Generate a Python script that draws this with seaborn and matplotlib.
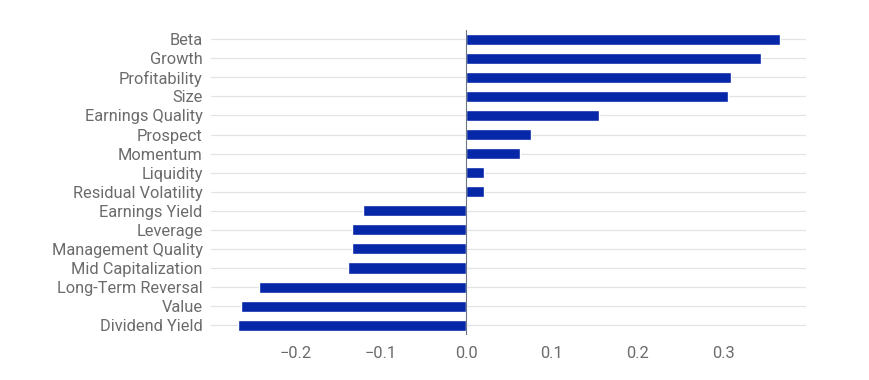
import matplotlib
matplotlib.use('Agg')

import matplotlib.pyplot as plt
import seaborn as sns
import pandas as pd

factors = ['Beta', 'Growth', 'Profitability', 'Size', 'Earnings Quality',
           'Prospect', 'Momentum', 'Liquidity', 'Residual Volatility',
           'Earnings Yield', 'Leverage', 'Management Quality',
           'Mid Capitalization', 'Long-Term Reversal', 'Value', 'Dividend Yield']
exposure = [0.366, 0.344, 0.309, 0.306, 0.155, 0.075, 0.063, 0.021, 0.021,
            -0.121, -0.134, -0.134, -0.138, -0.242, -0.263, -0.267]
x_ticks = [-0.2, -0.1, 0.0, 0.1, 0.2, 0.3]

sns.set_theme(style='white')
plt.rcParams['font.family'] = ['Roboto', 'DejaVu Sans']

df = pd.DataFrame({'factor': factors, 'exposure': exposure})

fig = plt.figure(figsize=(8.7, 3.8), dpi=100)
ax = fig.add_axes([0.2425, 0.119, 0.684, 0.803])

# horizontal gridlines at each category
for i in range(len(factors)):
    ax.axhline(i, color='#e3e3e3', linewidth=0.9, zorder=0)

sns.barplot(data=df, x='exposure', y='factor', orient='h', color='#0527a8',
            saturation=1, width=0.58, ax=ax, zorder=3)

ax.axvline(0, color='#6c7588', linewidth=0.8, zorder=4)

ax.set_xlim(-0.2986, 0.397)
ax.set_ylim(len(factors) - 0.5, -0.5)
ax.set_xticks(x_ticks)
ax.set_xticklabels([f'{t:.1f}'.replace('-', '\u2212') for t in x_ticks])
ax.set_xlabel('')
ax.set_ylabel('')
for s in ax.spines.values():
    s.set_visible(False)

ax.tick_params(axis='y', length=0, pad=6,
               labelsize=11.8, labelcolor='#6b6b6b')
ax.tick_params(axis='x', length=0, pad=8, labelsize=11.8, labelcolor='#6b6b6b')

fig.savefig('out.png', dpi=100)
plt.close(fig)
